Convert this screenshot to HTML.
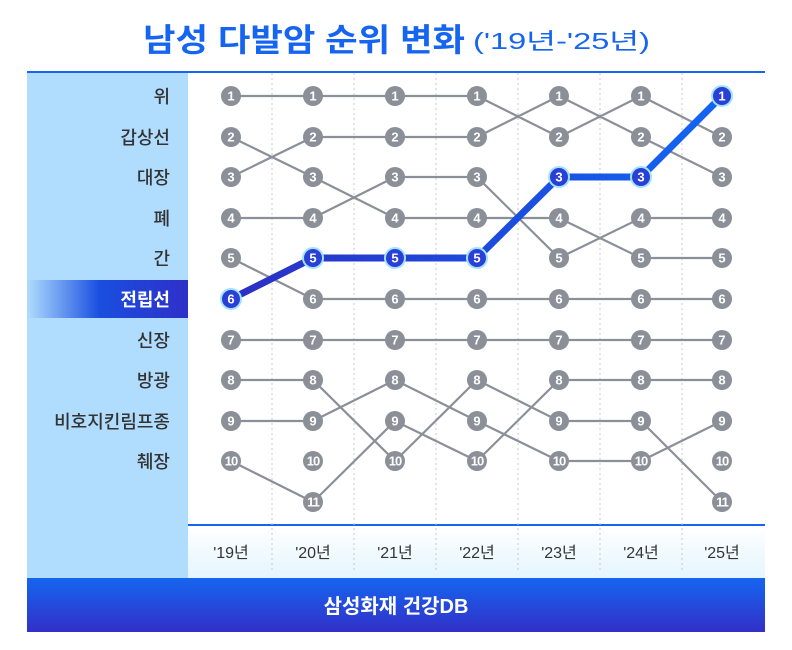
<!DOCTYPE html>
<html><head><meta charset="utf-8"><style>
html,body{margin:0;padding:0;background:#fff;}
svg{display:block;font-family:"Liberation Sans","Noto Sans CJK KR",sans-serif;}
.n circle{fill:#8b8f97;}
.n text{fill:#fff;font-size:13px;font-weight:bold;text-anchor:middle;}
.b circle{fill:#2a3fd6;stroke:#9fe3ff;stroke-width:2;}
.b text{fill:#fff;font-size:13px;font-weight:bold;text-anchor:middle;}
.lab{font-size:18px;fill:#333;text-anchor:end;font-weight:500;}
.yr{font-size:16px;fill:#333;text-anchor:middle;}
</style></head><body>
<svg width="792" height="650" viewBox="0 0 792 650">
<defs>
<linearGradient id="hl" x1="0" x2="1" y1="0" y2="0"><stop offset="0" stop-color="#b0dcfd"/><stop offset="0.45" stop-color="#1a4fe0"/><stop offset="1" stop-color="#2e2fc8"/></linearGradient>
<linearGradient id="yr" x1="0" x2="0" y1="0" y2="1"><stop offset="0" stop-color="#ffffff"/><stop offset="1" stop-color="#e4f5fe"/></linearGradient>
<linearGradient id="ft" x1="0" x2="0" y1="0" y2="1"><stop offset="0" stop-color="#1565f0"/><stop offset="1" stop-color="#3230c8"/></linearGradient>
<linearGradient id="bl" x1="231" x2="722" y1="0" y2="0" gradientUnits="userSpaceOnUse"><stop offset="0" stop-color="#2c2fc4"/><stop offset="0.6" stop-color="#1a4fe0"/><stop offset="1" stop-color="#1366f2"/></linearGradient>
</defs>
<text x="143" y="51" font-size="32" font-weight="bold" fill="#1565f0" textLength="322" lengthAdjust="spacingAndGlyphs">남성 다발암 순위 변화</text>
<text x="473" y="49" font-size="23" fill="#1565f0" textLength="177" lengthAdjust="spacingAndGlyphs">('19년-'25년)</text>
<rect x="27" y="71" width="738" height="2" fill="#1565f0"/>
<rect x="27" y="73" width="161" height="505" fill="#b0dcfd"/>
<rect x="27" y="280" width="161" height="38" fill="url(#hl)"/>
<rect x="188" y="526" width="577" height="52" fill="url(#yr)"/>
<rect x="188" y="524" width="577" height="2" fill="#1565f0"/>
<g stroke="#c4c8ce" stroke-width="1" stroke-dasharray="2,3">
<path d="M272 73V572M354 73V572M436 73V572M518 73V572M600 73V572M682 73V572"/>
</g>
<rect x="27" y="578" width="738" height="54" fill="url(#ft)"/>
<text x="396" y="613" font-size="20" font-weight="bold" fill="#fff" text-anchor="middle">삼성화재 건강DB</text>
<g class="lab">
<text x="170" y="103">위</text><text x="170" y="144">갑상선</text><text x="170" y="184">대장</text><text x="170" y="225">폐</text><text x="170" y="265">간</text>
<text x="170" y="306" style="fill:#fff;font-weight:bold">전립선</text>
<text x="170" y="347">신장</text><text x="170" y="387">방광</text><text x="170" y="428">비호지킨림프종</text><text x="170" y="468">췌장</text>
</g>
<g class="yr">
<text x="231" y="558">'19년</text><text x="313" y="558">'20년</text><text x="395" y="558">'21년</text><text x="477" y="558">'22년</text><text x="559" y="558">'23년</text><text x="641" y="558">'24년</text><text x="722" y="558">'25년</text>
</g>
<path fill="none" stroke="#8b8f97" stroke-width="2.2" d="M231 96H313 M231 137L313 177 M231 177L313 137 M231 218H313 M231 258L313 299 M231 340H313 M231 380H313 M231 421H313 M231 461L313 502
M313 96H395 M313 137H395 M313 177L395 218 M313 218L395 177 M313 299H395 M313 340H395 M313 380L395 461 M313 421L395 380 M313 502L395 421
M395 96H477 M395 137H477 M395 177H477 M395 218H477 M395 299H477 M395 340H477 M395 380L477 421 M395 421L477 461 M395 461L477 380
M477 96L559 137 M477 137L559 96 M477 177L559 258 M477 218H559 M477 299H559 M477 340H559 M477 380L559 421 M477 421L559 461 M477 461L559 380
M559 96L641 137 M559 137L641 96 M559 218L641 258 M559 258L641 218 M559 299H641 M559 340H641 M559 380H641 M559 421H641 M559 461H641
M641 96L722 137 M641 137L722 177 M641 218H722 M641 258H722 M641 299H722 M641 340H722 M641 380H722 M641 421L722 502 M641 461L722 421"/>
<path fill="none" stroke="url(#bl)" stroke-width="7" stroke-linejoin="round" d="M231 299L313 258H477L559 177H641L722 96"/>
<g class="n"><circle cx="231" cy="96" r="10"/><text x="231" y="100.5">1</text></g>
<g class="n"><circle cx="231" cy="137" r="10"/><text x="231" y="141.5">2</text></g>
<g class="n"><circle cx="231" cy="177" r="10"/><text x="231" y="181.5">3</text></g>
<g class="n"><circle cx="231" cy="218" r="10"/><text x="231" y="222.5">4</text></g>
<g class="n"><circle cx="231" cy="258" r="10"/><text x="231" y="262.5">5</text></g>
<g class="b"><circle cx="231" cy="299" r="10"/><text x="231" y="303.5">6</text></g>
<g class="n"><circle cx="231" cy="340" r="10"/><text x="231" y="344.5">7</text></g>
<g class="n"><circle cx="231" cy="380" r="10"/><text x="231" y="384.5">8</text></g>
<g class="n"><circle cx="231" cy="421" r="10"/><text x="231" y="425.5">9</text></g>
<g class="n"><circle cx="231" cy="461" r="10"/><text x="231" y="465.5" letter-spacing="-1">10</text></g>
<g class="n"><circle cx="313" cy="96" r="10"/><text x="313" y="100.5">1</text></g>
<g class="n"><circle cx="313" cy="137" r="10"/><text x="313" y="141.5">2</text></g>
<g class="n"><circle cx="313" cy="177" r="10"/><text x="313" y="181.5">3</text></g>
<g class="n"><circle cx="313" cy="218" r="10"/><text x="313" y="222.5">4</text></g>
<g class="b"><circle cx="313" cy="258" r="10"/><text x="313" y="262.5">5</text></g>
<g class="n"><circle cx="313" cy="299" r="10"/><text x="313" y="303.5">6</text></g>
<g class="n"><circle cx="313" cy="340" r="10"/><text x="313" y="344.5">7</text></g>
<g class="n"><circle cx="313" cy="380" r="10"/><text x="313" y="384.5">8</text></g>
<g class="n"><circle cx="313" cy="421" r="10"/><text x="313" y="425.5">9</text></g>
<g class="n"><circle cx="313" cy="461" r="10"/><text x="313" y="465.5" letter-spacing="-1">10</text></g>
<g class="n"><circle cx="313" cy="502" r="10"/><text x="313" y="506.5" letter-spacing="-1">11</text></g>
<g class="n"><circle cx="395" cy="96" r="10"/><text x="395" y="100.5">1</text></g>
<g class="n"><circle cx="395" cy="137" r="10"/><text x="395" y="141.5">2</text></g>
<g class="n"><circle cx="395" cy="177" r="10"/><text x="395" y="181.5">3</text></g>
<g class="n"><circle cx="395" cy="218" r="10"/><text x="395" y="222.5">4</text></g>
<g class="b"><circle cx="395" cy="258" r="10"/><text x="395" y="262.5">5</text></g>
<g class="n"><circle cx="395" cy="299" r="10"/><text x="395" y="303.5">6</text></g>
<g class="n"><circle cx="395" cy="340" r="10"/><text x="395" y="344.5">7</text></g>
<g class="n"><circle cx="395" cy="380" r="10"/><text x="395" y="384.5">8</text></g>
<g class="n"><circle cx="395" cy="421" r="10"/><text x="395" y="425.5">9</text></g>
<g class="n"><circle cx="395" cy="461" r="10"/><text x="395" y="465.5" letter-spacing="-1">10</text></g>
<g class="n"><circle cx="477" cy="96" r="10"/><text x="477" y="100.5">1</text></g>
<g class="n"><circle cx="477" cy="137" r="10"/><text x="477" y="141.5">2</text></g>
<g class="n"><circle cx="477" cy="177" r="10"/><text x="477" y="181.5">3</text></g>
<g class="n"><circle cx="477" cy="218" r="10"/><text x="477" y="222.5">4</text></g>
<g class="b"><circle cx="477" cy="258" r="10"/><text x="477" y="262.5">5</text></g>
<g class="n"><circle cx="477" cy="299" r="10"/><text x="477" y="303.5">6</text></g>
<g class="n"><circle cx="477" cy="340" r="10"/><text x="477" y="344.5">7</text></g>
<g class="n"><circle cx="477" cy="380" r="10"/><text x="477" y="384.5">8</text></g>
<g class="n"><circle cx="477" cy="421" r="10"/><text x="477" y="425.5">9</text></g>
<g class="n"><circle cx="477" cy="461" r="10"/><text x="477" y="465.5" letter-spacing="-1">10</text></g>
<g class="n"><circle cx="559" cy="96" r="10"/><text x="559" y="100.5">1</text></g>
<g class="n"><circle cx="559" cy="137" r="10"/><text x="559" y="141.5">2</text></g>
<g class="b"><circle cx="559" cy="177" r="10"/><text x="559" y="181.5">3</text></g>
<g class="n"><circle cx="559" cy="218" r="10"/><text x="559" y="222.5">4</text></g>
<g class="n"><circle cx="559" cy="258" r="10"/><text x="559" y="262.5">5</text></g>
<g class="n"><circle cx="559" cy="299" r="10"/><text x="559" y="303.5">6</text></g>
<g class="n"><circle cx="559" cy="340" r="10"/><text x="559" y="344.5">7</text></g>
<g class="n"><circle cx="559" cy="380" r="10"/><text x="559" y="384.5">8</text></g>
<g class="n"><circle cx="559" cy="421" r="10"/><text x="559" y="425.5">9</text></g>
<g class="n"><circle cx="559" cy="461" r="10"/><text x="559" y="465.5" letter-spacing="-1">10</text></g>
<g class="n"><circle cx="641" cy="96" r="10"/><text x="641" y="100.5">1</text></g>
<g class="n"><circle cx="641" cy="137" r="10"/><text x="641" y="141.5">2</text></g>
<g class="b"><circle cx="641" cy="177" r="10"/><text x="641" y="181.5">3</text></g>
<g class="n"><circle cx="641" cy="218" r="10"/><text x="641" y="222.5">4</text></g>
<g class="n"><circle cx="641" cy="258" r="10"/><text x="641" y="262.5">5</text></g>
<g class="n"><circle cx="641" cy="299" r="10"/><text x="641" y="303.5">6</text></g>
<g class="n"><circle cx="641" cy="340" r="10"/><text x="641" y="344.5">7</text></g>
<g class="n"><circle cx="641" cy="380" r="10"/><text x="641" y="384.5">8</text></g>
<g class="n"><circle cx="641" cy="421" r="10"/><text x="641" y="425.5">9</text></g>
<g class="n"><circle cx="641" cy="461" r="10"/><text x="641" y="465.5" letter-spacing="-1">10</text></g>
<g class="b"><circle cx="722" cy="96" r="10"/><text x="722" y="100.5">1</text></g>
<g class="n"><circle cx="722" cy="137" r="10"/><text x="722" y="141.5">2</text></g>
<g class="n"><circle cx="722" cy="177" r="10"/><text x="722" y="181.5">3</text></g>
<g class="n"><circle cx="722" cy="218" r="10"/><text x="722" y="222.5">4</text></g>
<g class="n"><circle cx="722" cy="258" r="10"/><text x="722" y="262.5">5</text></g>
<g class="n"><circle cx="722" cy="299" r="10"/><text x="722" y="303.5">6</text></g>
<g class="n"><circle cx="722" cy="340" r="10"/><text x="722" y="344.5">7</text></g>
<g class="n"><circle cx="722" cy="380" r="10"/><text x="722" y="384.5">8</text></g>
<g class="n"><circle cx="722" cy="421" r="10"/><text x="722" y="425.5">9</text></g>
<g class="n"><circle cx="722" cy="461" r="10"/><text x="722" y="465.5" letter-spacing="-1">10</text></g>
<g class="n"><circle cx="722" cy="502" r="10"/><text x="722" y="506.5" letter-spacing="-1">11</text></g>
</svg>
</body></html>
